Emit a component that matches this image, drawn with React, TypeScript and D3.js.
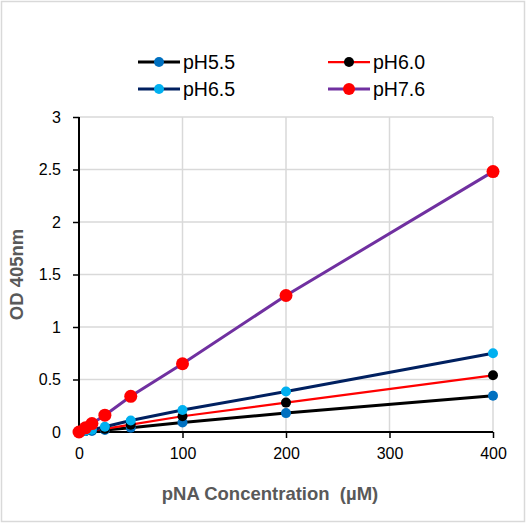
import { useEffect, useRef } from "react"
import * as d3 from "d3"

// pNA concentration (µM)
const conc = [0, 6.25, 12.5, 25, 50, 100, 200, 400]

const od55 = [0, 0.01, 0.01, 0.02, 0.04, 0.09, 0.18, 0.345]
const od60 = [0, 0.01, 0.02, 0.03, 0.07, 0.15, 0.28, 0.54]
const od65 = [0, 0.01, 0.02, 0.05, 0.11, 0.21, 0.385, 0.75]
const od76 = [0, 0.04, 0.08, 0.16, 0.34, 0.65, 1.3, 2.48]

const seriesNames = ["pH5.5", "pH6.0", "pH6.5", "pH7.6"]
const xTicks = [0, 100, 200, 300, 400]
const yTicks = [0, 0.5, 1, 1.5, 2, 2.5, 3]

const styles = [
  { line: "#000000", marker: "#0070C0", lw: 3, r: 5 },
  { line: "#FF0000", marker: "#000000", lw: 2.25, r: 5 },
  { line: "#002060", marker: "#00B0F0", lw: 3, r: 5 },
  { line: "#7030A0", marker: "#FF0000", lw: 3, r: 6.5 }
]

const W = 527
const H = 523
const margin = { top: 117, right: 34, bottom: 91, left: 79 }
const FONT = "Liberation Sans, Arial, sans-serif"

export default function App() {
  const svgRef = useRef<SVGSVGElement>(null)

  useEffect(() => {
    if (!svgRef.current) return
    const svg = d3.select(svgRef.current)
    svg.selectAll("*").remove()

    const values = [od55, od60, od65, od76]

    const x = d3.scaleLinear().domain([0, 400]).range([margin.left, W - margin.right])
    const y = d3.scaleLinear().domain([0, 3]).range([H - margin.bottom, margin.top])

    // outer chart border
    svg.append("rect")
      .attr("x", 1.5).attr("y", 1.5)
      .attr("width", W - 4).attr("height", H - 3)
      .attr("fill", "#fff")
      .attr("stroke", "#d9d9d9")
      .attr("stroke-width", 1.5)

    // gridlines
    const g = svg.append("g")
    g.selectAll(".hgrid")
      .data(yTicks.filter(t => t > 0))
      .enter()
      .append("line")
      .attr("x1", x(0)).attr("x2", x(400))
      .attr("y1", d => y(d)).attr("y2", d => y(d))
      .attr("stroke", "#d9d9d9").attr("stroke-width", 1.5)
    g.selectAll(".vgrid")
      .data(xTicks.filter(t => t > 0))
      .enter()
      .append("line")
      .attr("x1", d => x(d)).attr("x2", d => x(d))
      .attr("y1", y(0)).attr("y2", y(3))
      .attr("stroke", "#d9d9d9").attr("stroke-width", 1.5)

    // axes
    const yAxis = svg.append("g")
      .attr("transform", `translate(${x(0)},0)`)
      .call(d3.axisLeft(y).tickValues(yTicks).tickSize(6).tickPadding(12).tickFormat(d => String(d)))
    const xAxis = svg.append("g")
      .attr("transform", `translate(0,${y(0)})`)
      .call(d3.axisBottom(x).tickValues(xTicks).tickSize(6).tickPadding(10).tickFormat(d => String(d)))
    ;[xAxis, yAxis].forEach(a => {
      a.select(".domain").attr("stroke", "#000").attr("stroke-width", 2)
        .attr("d", a === xAxis
          ? `M${x(0)},0H${x(400)}`
          : `M0,${y(3)}V${y(0)}`)
      a.selectAll(".tick line").attr("stroke", "#000").attr("stroke-width", 1.5)
      a.selectAll(".tick text")
        .attr("fill", "#000")
        .attr("font-size", "16px")
        .attr("font-family", FONT)
    })

    // series
    const line = d3.line<number>()
      .x((_, i) => x(conc[i]))
      .y(d => y(d))

    values.forEach((vals, si) => {
      const s = styles[si]
      svg.append("path")
        .datum(vals)
        .attr("d", line)
        .attr("fill", "none")
        .attr("stroke", s.line)
        .attr("stroke-width", s.lw)
      svg.selectAll(`.m${si}`)
        .data(vals)
        .enter()
        .append("circle")
        .attr("cx", (_, i) => x(conc[i]))
        .attr("cy", d => y(d))
        .attr("r", s.r)
        .attr("fill", s.marker)
    })

    // axis titles
    svg.append("text")
      .attr("transform", `translate(23,${(y(0) + y(3)) / 2}) rotate(-90)`)
      .attr("text-anchor", "middle")
      .attr("font-family", FONT)
      .attr("font-weight", "bold")
      .attr("font-size", "18.5px")
      .attr("fill", "#595959")
      .text("OD 405nm")
    svg.append("text")
      .attr("x", 270)
      .attr("y", 500)
      .attr("text-anchor", "middle")
      .attr("font-family", FONT)
      .attr("font-weight", "bold")
      .attr("font-size", "18.5px")
      .attr("fill", "#595959")
      .attr("xml:space", "preserve")
      .text("pNA Concentration  (µM)")

    // legend
    const legendPos = [
      { x: 138, y: 62 },
      { x: 328, y: 62 },
      { x: 138, y: 89 },
      { x: 328, y: 89 }
    ]
    seriesNames.forEach((name, si) => {
      const s = styles[si]
      const p = legendPos[si]
      const lg = svg.append("g").attr("transform", `translate(${p.x},${p.y})`)
      lg.append("line")
        .attr("x1", 0).attr("x2", 42)
        .attr("y1", 0).attr("y2", 0)
        .attr("stroke", s.line).attr("stroke-width", s.lw)
      lg.append("circle")
        .attr("cx", 21).attr("cy", 0)
        .attr("r", si === 3 ? 6 : 5)
        .attr("fill", s.marker)
      lg.append("text")
        .attr("x", 45).attr("y", 7)
        .attr("font-family", FONT)
        .attr("font-size", "19.5px")
        .attr("fill", "#000")
        .text(name)
    })
  }, [])

  return (
    <svg ref={svgRef} width={W} height={H} style={{ display: "block", position: "absolute", left: 0, top: 0 }} />
  )
}
